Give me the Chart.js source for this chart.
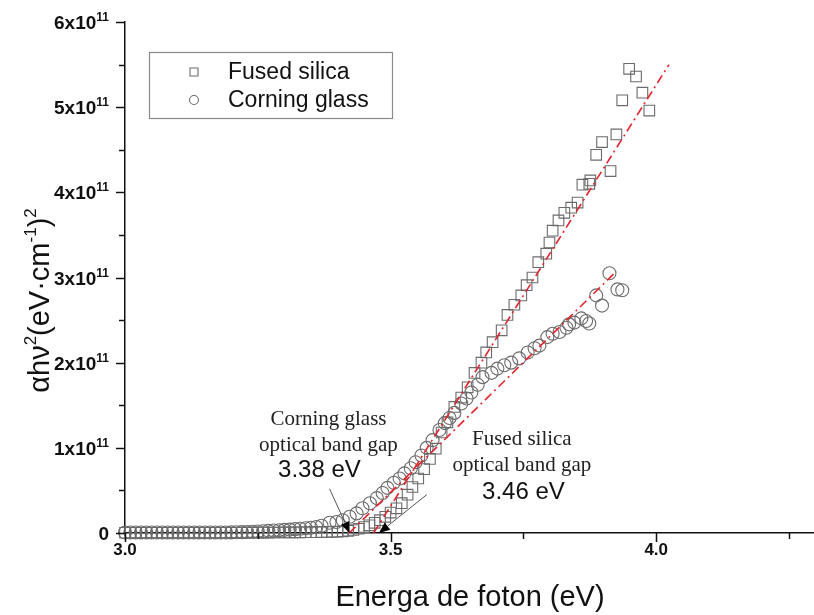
<!DOCTYPE html>
<html>
<head>
<meta charset="utf-8">
<script src="https://cdn.jsdelivr.net/npm/chart.js@4.4.0/dist/chart.umd.min.js"></script>
<style>
  html, body { margin: 0; background: #fff; overflow: hidden; }
  #chart { display: block; }
</style>
</head>
<body>
<canvas id="chart" width="814" height="615"></canvas>
<script>
// photon energy (eV) and (alpha h nu)^2 in units of 1e11 (eV cm^-1)^2
const fusedE = [
  3.00, 3.01, 3.02, 3.03, 3.04, 3.05, 3.06, 3.07, 3.08, 3.09,
  3.10, 3.11, 3.12, 3.13, 3.14, 3.15, 3.16, 3.17, 3.18, 3.19,
  3.20, 3.21, 3.22, 3.23, 3.24, 3.25, 3.26, 3.27, 3.28, 3.29,
  3.30, 3.31, 3.32, 3.33, 3.34, 3.35, 3.36, 3.37, 3.38, 3.39,
  3.40, 3.41, 3.42, 3.43, 3.44, 3.45, 3.46, 3.47, 3.48, 3.49,
  3.50, 3.511, 3.521, 3.532, 3.541, 3.552, 3.563, 3.574, 3.585, 3.596,
  3.607, 3.620, 3.633, 3.645, 3.658, 3.671, 3.680, 3.692, 3.709, 3.720,
  3.733, 3.746, 3.756, 3.767, 3.778, 3.793, 3.799, 3.805, 3.816, 3.827,
  3.840, 3.852, 3.861, 3.874, 3.876, 3.887, 3.898, 3.914, 3.925, 3.936,
  3.949, 3.962, 3.974, 3.987
]
const fusedA = [
  0.003, 0.003, 0.003, 0.003, 0.003, 0.003, 0.003, 0.003, 0.003, 0.003,
  0.003, 0.003, 0.003, 0.003, 0.003, 0.003, 0.003, 0.003, 0.003, 0.003,
  0.003, 0.003, 0.004, 0.004, 0.004, 0.005, 0.005, 0.005, 0.006, 0.006,
  0.007, 0.007, 0.008, 0.008, 0.009, 0.010, 0.010, 0.011, 0.012, 0.014,
  0.016, 0.020, 0.025, 0.035, 0.050, 0.070, 0.090, 0.120, 0.150, 0.190,
  0.240, 0.290, 0.350, 0.450, 0.540, 0.640, 0.750, 0.870, 0.990, 1.180,
  1.300, 1.480, 1.590, 1.710, 1.880, 2.000, 2.120, 2.240, 2.380, 2.560,
  2.680, 2.790, 2.910, 3.000, 3.180, 3.280, 3.410, 3.550, 3.670, 3.760,
  3.820, 3.880, 4.090, 4.100, 4.140, 4.440, 4.590, 4.250, 4.680, 5.080,
  5.450, 5.360, 5.170, 4.960
]
const corningE = [
  3.00, 3.01, 3.02, 3.03, 3.04, 3.05, 3.06, 3.07, 3.08, 3.09,
  3.10, 3.11, 3.12, 3.13, 3.14, 3.15, 3.16, 3.17, 3.18, 3.19,
  3.20, 3.21, 3.22, 3.23, 3.24, 3.25, 3.26, 3.27, 3.28, 3.29,
  3.30, 3.31, 3.32, 3.33, 3.34, 3.35, 3.36, 3.37, 3.385, 3.398,
  3.410, 3.423, 3.436, 3.447, 3.461, 3.474, 3.485, 3.494, 3.506, 3.517,
  3.526, 3.538, 3.547, 3.558, 3.568, 3.579, 3.592, 3.602, 3.611, 3.620,
  3.633, 3.643, 3.652, 3.664, 3.673, 3.690, 3.701, 3.714, 3.727, 3.742,
  3.758, 3.771, 3.780, 3.795, 3.805, 3.818, 3.831, 3.836, 3.846, 3.859,
  3.868, 3.874, 3.887, 3.898, 3.912, 3.927, 3.936
]
const corningA = [
  0.005, 0.005, 0.005, 0.005, 0.005, 0.005, 0.005, 0.005, 0.005, 0.005,
  0.005, 0.005, 0.005, 0.005, 0.005, 0.005, 0.005, 0.005, 0.006, 0.006,
  0.007, 0.008, 0.010, 0.012, 0.015, 0.018, 0.020, 0.025, 0.030, 0.033,
  0.037, 0.040, 0.045, 0.050, 0.055, 0.062, 0.070, 0.085, 0.120, 0.130,
  0.150, 0.190, 0.230, 0.290, 0.350, 0.410, 0.470, 0.530, 0.590, 0.640,
  0.700, 0.760, 0.830, 0.910, 1.000, 1.090, 1.210, 1.290, 1.350, 1.410,
  1.520, 1.580, 1.650, 1.740, 1.830, 1.880, 1.930, 1.970, 2.000, 2.050,
  2.120, 2.170, 2.200, 2.300, 2.340, 2.360, 2.410, 2.450, 2.470, 2.520,
  2.490, 2.460, 2.790, 2.670, 3.050, 2.860, 2.850
]
// linear fits (dash-dot red)
const fitFusedE = [3.468, 4.024]
const fitFusedA = [0, 5.50]
const fitCorningE = [3.422, 3.923]
const fitCorningA = [0, 3.06]

const seriesNames = ['Fused silica', 'Corning glass']
const xMajorTicks = [3.0, 3.5, 4.0]
const xMinorTicks = [3.25, 3.75, 4.25]
const yMajorTicks = [0, 1, 2, 3, 4, 5, 6]
const yMinorTicks = [0.5, 1.5, 2.5, 3.5, 4.5, 5.5]

const pts = (xs, ys) => xs.map((x, i) => ({ x: x, y: ys[i] }))

const markColor = '#6b6b6b'
const fitColor = '#e3222b'
const sans = '"Liberation Sans", Arial, sans-serif'

// band-gap notes, anchored in data units
const notes = [
  { at: [3.383, 1.33], lines: ['Corning glass', 'optical band gap'], value: '3.38 eV',
    valueAt: [3.366, 0.73], arrow: [[3.385, 0.52], [3.423, 0.0]] },
  { at: [3.747, 1.10], lines: ['Fused silica', 'optical band gap'], value: '3.46 eV',
    valueAt: [3.750, 0.48], arrow: [[3.568, 0.45], [3.478, 0.0]] }
]

// text pieces along a baseline, raised pieces act as superscripts
function runFont(r) { return `${r.bold ? 'bold ' : ''}${r.size}px ${sans}` }
function drawRuns(ctx, runs, x, y) {
  runs.forEach(r => {
    ctx.font = runFont(r)
    ctx.fillText(r.t, x, y - (r.rise || 0))
    x += ctx.measureText(r.t).width
  })
}
function runsWidth(ctx, runs) {
  return runs.reduce((w, r) => { ctx.font = runFont(r); return w + ctx.measureText(r.t).width }, 0)
}

const overlay = {
  id: 'overlay',
  afterDraw(chart) {
    const { ctx, scales: { x, y } } = chart
    const left = x.left, bottom = y.bottom
    ctx.save()
    ctx.strokeStyle = '#111'
    ctx.lineWidth = 1.5
    // outward tick marks
    const tick = (vals, len, horiz) => vals.forEach(v => {
      ctx.beginPath()
      if (horiz) {
        const px = Math.round(x.getPixelForValue(v)) + 0.5
        ctx.moveTo(px, bottom); ctx.lineTo(px, bottom + len)
      } else {
        const py = Math.round(y.getPixelForValue(v)) + 0.5
        ctx.moveTo(left, py); ctx.lineTo(left - len, py)
      }
      ctx.stroke()
    })
    tick(xMajorTicks, 9, true)
    tick(xMinorTicks, 6, true)
    tick(yMajorTicks, 9, false)
    tick(yMinorTicks, 6, false)

    // x tick labels
    ctx.fillStyle = '#111'
    ctx.font = 'bold 17px ' + sans
    ctx.textAlign = 'center'
    ctx.textBaseline = 'middle'
    xMajorTicks.forEach(v => ctx.fillText(v.toFixed(1), x.getPixelForValue(v), bottom + 17))

    // y tick labels with real superscripts
    ctx.textAlign = 'left'
    ctx.textBaseline = 'alphabetic'
    yMajorTicks.forEach(v => {
      const runs = v === 0
        ? [{ t: '0', size: 19, bold: true }]
        : [{ t: v + 'x10', size: 19, bold: true }, { t: '11', size: 12, bold: true, rise: 8 }]
      const w = runsWidth(ctx, runs)
      drawRuns(ctx, runs, left - 16 - w, y.getPixelForValue(v) + 7)
    })

    // rotated y title
    const titleRuns = [
      { t: '\u03b1h\u03bd', size: 29 }, { t: '2', size: 17, rise: 13 },
      { t: '(eV\u00b7cm', size: 29 }, { t: '-1', size: 17, rise: 13 },
      { t: ')', size: 29 }, { t: '2', size: 17, rise: 13 }
    ]
    ctx.save()
    ctx.translate(49, (y.top + y.bottom) / 2 + 23)
    ctx.rotate(-Math.PI / 2)
    drawRuns(ctx, titleRuns, -runsWidth(ctx, titleRuns) / 2, 0)
    ctx.restore()

    // x title
    ctx.font = '29px ' + sans
    ctx.textAlign = 'center'
    ctx.fillText('Energa de foton (eV)', 470, bottom + 73)

    // notes and arrows
    notes.forEach(n => {
      const cx = x.getPixelForValue(n.at[0]), cy = y.getPixelForValue(n.at[1])
      ctx.fillStyle = '#222'
      ctx.textAlign = 'center'
      ctx.textBaseline = 'middle'
      ctx.font = '21px "Liberation Serif", "DejaVu Serif", serif'
      n.lines.forEach((t, i) => ctx.fillText(t, cx, cy + i * 26))
      ctx.font = '24px ' + sans
      ctx.fillStyle = '#111'
      ctx.fillText(n.value, x.getPixelForValue(n.valueAt[0]), y.getPixelForValue(n.valueAt[1]))

      const x0 = x.getPixelForValue(n.arrow[0][0]), y0 = y.getPixelForValue(n.arrow[0][1])
      const x1 = x.getPixelForValue(n.arrow[1][0]), y1 = y.getPixelForValue(n.arrow[1][1])
      const ang = Math.atan2(y1 - y0, x1 - x0)
      const headLen = 11, headW = 4.5
      const bx = x1 - headLen * Math.cos(ang), by = y1 - headLen * Math.sin(ang)
      ctx.strokeStyle = '#555'
      ctx.lineWidth = 1
      ctx.beginPath(); ctx.moveTo(x0, y0); ctx.lineTo(bx, by); ctx.stroke()
      ctx.fillStyle = '#000'
      ctx.beginPath()
      ctx.moveTo(x1, y1)
      ctx.lineTo(bx + headW * Math.sin(ang), by - headW * Math.cos(ang))
      ctx.lineTo(bx - headW * Math.sin(ang), by + headW * Math.cos(ang))
      ctx.closePath(); ctx.fill()
    })

    // legend box
    const lx = 149, ly = 52, lw = 243, lh = 66
    ctx.strokeStyle = '#8a8a8a'
    ctx.lineWidth = 1.2
    ctx.strokeRect(lx + 0.5, ly + 0.5, lw, lh)
    ctx.font = '23px ' + sans
    ctx.textAlign = 'left'
    ctx.textBaseline = 'middle'
    seriesNames.forEach((name, i) => {
      const my = ly + 20 + i * 28
      ctx.strokeStyle = markColor
      ctx.lineWidth = 1.1
      ctx.beginPath()
      if (i === 0) ctx.rect(190, my - 4, 8, 8)
      else ctx.arc(194, my, 4.5, 0, Math.PI * 2)
      ctx.stroke()
      ctx.fillStyle = '#111'
      ctx.fillText(name, 228, my + 1)
    })
    ctx.restore()
  }
}

new Chart(document.querySelector('#chart'), {
  type: 'scatter',
  data: {
    datasets: [
      { label: 'fit fused', data: pts(fitFusedE, fitFusedA), showLine: true, pointRadius: 0,
        borderColor: fitColor, borderWidth: 1.6, borderDash: [9, 4, 2, 4], order: 0 },
      { label: 'fit corning', data: pts(fitCorningE, fitCorningA), showLine: true, pointRadius: 0,
        borderColor: fitColor, borderWidth: 1.6, borderDash: [9, 4, 2, 4], order: 0 },
      { label: seriesNames[0], data: pts(fusedE, fusedA), pointStyle: 'rect', pointRadius: 7.5,
        borderColor: markColor, borderWidth: 1.1, backgroundColor: 'rgba(0,0,0,0)', clip: false, order: 2 },
      { label: seriesNames[1], data: pts(corningE, corningA), pointStyle: 'circle', pointRadius: 6.5,
        borderColor: markColor, borderWidth: 1.1, backgroundColor: 'rgba(0,0,0,0)', clip: false, order: 1 }
    ]
  },
  options: {
    responsive: false,
    animation: false,
    layout: { autoPadding: false, padding: { top: 22, right: 0, left: 0, bottom: 0 } },
    plugins: { legend: { display: false }, tooltip: { enabled: false } },
    scales: {
      x: {
        type: 'linear', min: 3.0, max: 4.297,
        afterBuildTicks: s => { s.ticks = xMajorTicks.map(v => ({ value: v })) },
        afterFit: s => { s.height = 82 },
        grid: { display: false, drawTicks: false },
        border: { display: true, color: '#111', width: 1.5 },
        ticks: { display: false }
      },
      y: {
        type: 'linear', min: 0, max: 6,
        afterBuildTicks: s => { s.ticks = yMajorTicks.map(v => ({ value: v })) },
        afterFit: s => { s.width = 125 },
        grid: { display: false, drawTicks: false },
        border: { display: true, color: '#111', width: 1.5 },
        ticks: { display: false }
      }
    }
  },
  plugins: [overlay]
})
</script>
</body>
</html>
